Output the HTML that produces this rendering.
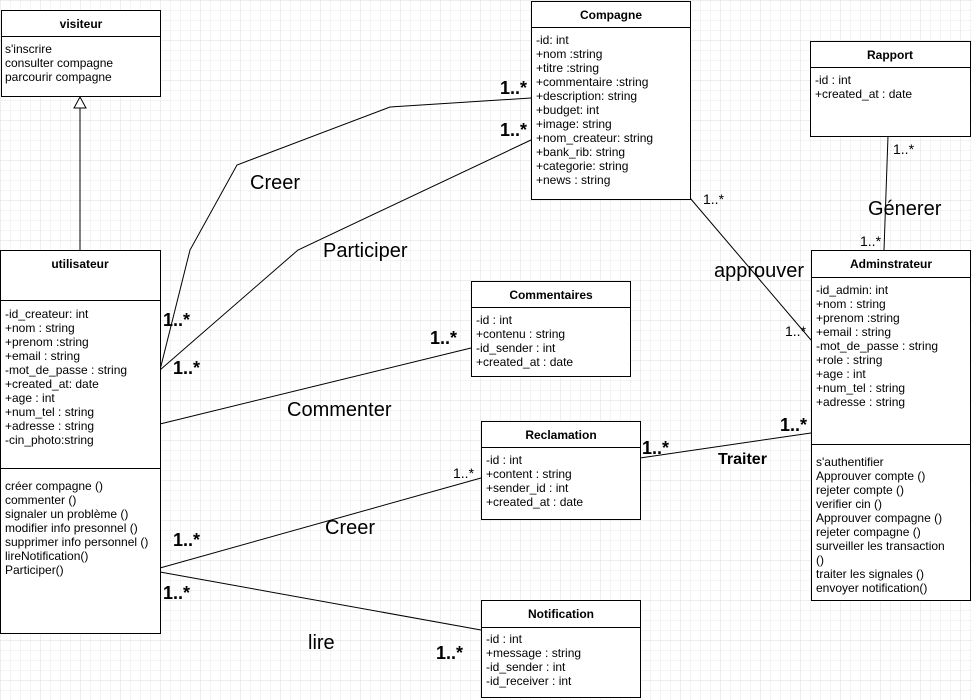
<!DOCTYPE html>
<html><head><meta charset="utf-8"><style>
body{margin:0;background:#fff}
svg{display:block;font-family:"Liberation Sans",Arial,sans-serif}
</style></head><body>
<svg width="972" height="700" viewBox="0 0 972 700" xmlns="http://www.w3.org/2000/svg">
<defs>
<pattern id="g" width="10" height="10" patternUnits="userSpaceOnUse"><path d="M10 0H0V10" fill="none" stroke="#e8e8e8" stroke-width="1"/></pattern>
<pattern id="G" width="40" height="40" patternUnits="userSpaceOnUse"><rect width="40" height="40" fill="url(#g)"/><path d="M40 0H0V40" fill="none" stroke="#dcdcdc" stroke-width="1"/></pattern>
</defs>
<rect width="972" height="700" fill="#fff"/>
<rect width="972" height="700" fill="url(#G)"/>
<g stroke="#000" fill="none" stroke-width="1">
<path d="M80 250V108"/><path d="M80 97L74 108H86Z" fill="#fff"/>
<path d="M160 370L190 250L237 165L390 107L531 98"/>
<path d="M160 370L298 250L531 140"/>
<path d="M160 424L471 348"/>
<path d="M690 198L811 340"/>
<path d="M888 136L884 250"/>
<path d="M640 458L811 433"/>
<path d="M160 568L481 478"/>
<path d="M160 572L481 630"/>
</g>
<g stroke="#000" fill="#fff" stroke-width="1">
<rect x="1.5" y="10.5" width="159" height="86"/><path d="M1.5 36.5H160.5"/>
<rect x="0.5" y="250.5" width="160" height="383"/><path d="M0.5 300.5H160.5M0.5 468.5H160.5"/>
<rect x="531.5" y="1.5" width="159" height="198"/><path d="M531.5 27.5H690.5"/>
<rect x="810.5" y="41.5" width="160" height="95"/><path d="M810.5 67.5H970.5"/>
<rect x="471.5" y="281.5" width="159" height="95"/><path d="M471.5 307.5H630.5"/>
<rect x="481.5" y="421.5" width="159" height="98"/><path d="M481.5 447.5H640.5"/>
<rect x="481.5" y="600.5" width="159" height="97"/><path d="M481.5 627.5H640.5"/>
<rect x="811.5" y="250.5" width="159" height="350"/><path d="M811.5 277.5H970.5M811.5 444.5H970.5"/>
</g>
<g font-size="12" font-weight="bold" text-anchor="middle">
<text x="81" y="28">visiteur</text>
<text x="80" y="268">utilisateur</text>
<text x="611" y="19">Compagne</text>
<text x="890" y="59">Rapport</text>
<text x="551" y="299">Commentaires</text>
<text x="561" y="439">Reclamation</text>
<text x="561" y="618">Notification</text>
<text x="891" y="268">Adminstrateur</text>
</g>
<g font-size="12">
<text x="5" y="53"><tspan x="5">s'inscrire</tspan><tspan x="5" dy="14">consulter compagne</tspan><tspan x="5" dy="14">parcourir compagne</tspan></text>
<text y="318"><tspan x="5">-id_createur: int</tspan><tspan x="5" dy="14">+nom : string</tspan><tspan x="5" dy="14">+prenom :string</tspan><tspan x="5" dy="14">+email : string</tspan><tspan x="5" dy="14">-mot_de_passe : string</tspan><tspan x="5" dy="14">+created_at: date</tspan><tspan x="5" dy="14">+age : int</tspan><tspan x="5" dy="14">+num_tel : string</tspan><tspan x="5" dy="14">+adresse : string</tspan><tspan x="5" dy="14">-cin_photo:string</tspan></text>
<text y="490"><tspan x="5">créer compagne ()</tspan><tspan x="5" dy="14">commenter ()</tspan><tspan x="5" dy="14">signaler un problème ()</tspan><tspan x="5" dy="14">modifier info presonnel ()</tspan><tspan x="5" dy="14">supprimer info personnel ()</tspan><tspan x="5" dy="14">lireNotification()</tspan><tspan x="5" dy="14">Participer()</tspan></text>
<text y="44"><tspan x="536">-id: int</tspan><tspan x="536" dy="14">+nom :string</tspan><tspan x="536" dy="14">+titre :string</tspan><tspan x="536" dy="14">+commentaire :string</tspan><tspan x="536" dy="14">+description: string</tspan><tspan x="536" dy="14">+budget: int</tspan><tspan x="536" dy="14">+image: string</tspan><tspan x="536" dy="14">+nom_createur: string</tspan><tspan x="536" dy="14">+bank_rib: string</tspan><tspan x="536" dy="14">+categorie: string</tspan><tspan x="536" dy="14">+news : string</tspan></text>
<text y="84"><tspan x="815">-id : int</tspan><tspan x="815" dy="14">+created_at : date</tspan></text>
<text y="324"><tspan x="476">-id : int</tspan><tspan x="476" dy="14">+contenu : string</tspan><tspan x="476" dy="14">-id_sender : int</tspan><tspan x="476" dy="14">+created_at : date</tspan></text>
<text y="464"><tspan x="486">-id : int</tspan><tspan x="486" dy="14">+content : string</tspan><tspan x="486" dy="14">+sender_id : int</tspan><tspan x="486" dy="14">+created_at : date</tspan></text>
<text y="643"><tspan x="486">-id : int</tspan><tspan x="486" dy="14">+message : string</tspan><tspan x="486" dy="14">-id_sender : int</tspan><tspan x="486" dy="14">-id_receiver : int</tspan></text>
<text y="294"><tspan x="816">-id_admin: int</tspan><tspan x="816" dy="14">+nom : string</tspan><tspan x="816" dy="14">+prenom :string</tspan><tspan x="816" dy="14">+email : string</tspan><tspan x="816" dy="14">-mot_de_passe : string</tspan><tspan x="816" dy="14">+role : string</tspan><tspan x="816" dy="14">+age : int</tspan><tspan x="816" dy="14">+num_tel : string</tspan><tspan x="816" dy="14">+adresse : string</tspan></text>
<text y="466"><tspan x="816">s'authentifier</tspan><tspan x="816" dy="14">Approuver compte ()</tspan><tspan x="816" dy="14">rejeter compte ()</tspan><tspan x="816" dy="14">verifier cin ()</tspan><tspan x="816" dy="14">Approuver compagne ()</tspan><tspan x="816" dy="14">rejeter compagne ()</tspan><tspan x="816" dy="14">surveiller les transaction</tspan><tspan x="816" dy="14">()</tspan><tspan x="816" dy="14">traiter les signales ()</tspan><tspan x="816" dy="14">envoyer notification()</tspan></text>
</g>
<g font-size="14">
<text x="703" y="204">1..*</text>
<text x="893" y="154">1..*</text>
<text x="860" y="246">1..*</text>
<text x="785" y="336">1..*</text>
<text x="453" y="478">1..*</text>
</g>
<g font-size="18" font-weight="bold">
<text x="500" y="94">1..*</text>
<text x="500" y="136">1..*</text>
<text x="163" y="326">1..*</text>
<text x="173" y="374">1..*</text>
<text x="430" y="344">1..*</text>
<text x="642" y="454">1..*</text>
<text x="780" y="431">1..*</text>
<text x="173" y="546">1..*</text>
<text x="163" y="599">1..*</text>
<text x="436" y="659">1..*</text>
</g>
<g font-size="20">
<text x="250" y="189">Creer</text>
<text x="323" y="257">Participer</text>
<text x="287" y="416">Commenter</text>
<text x="714" y="277">approuver</text>
<text x="868" y="215">Génerer</text>
<text x="325" y="534">Creer</text>
<text x="308" y="649">lire</text>
</g>
<text x="718" y="464" font-size="16" font-weight="bold">Traiter</text>
</svg>
</body></html>
